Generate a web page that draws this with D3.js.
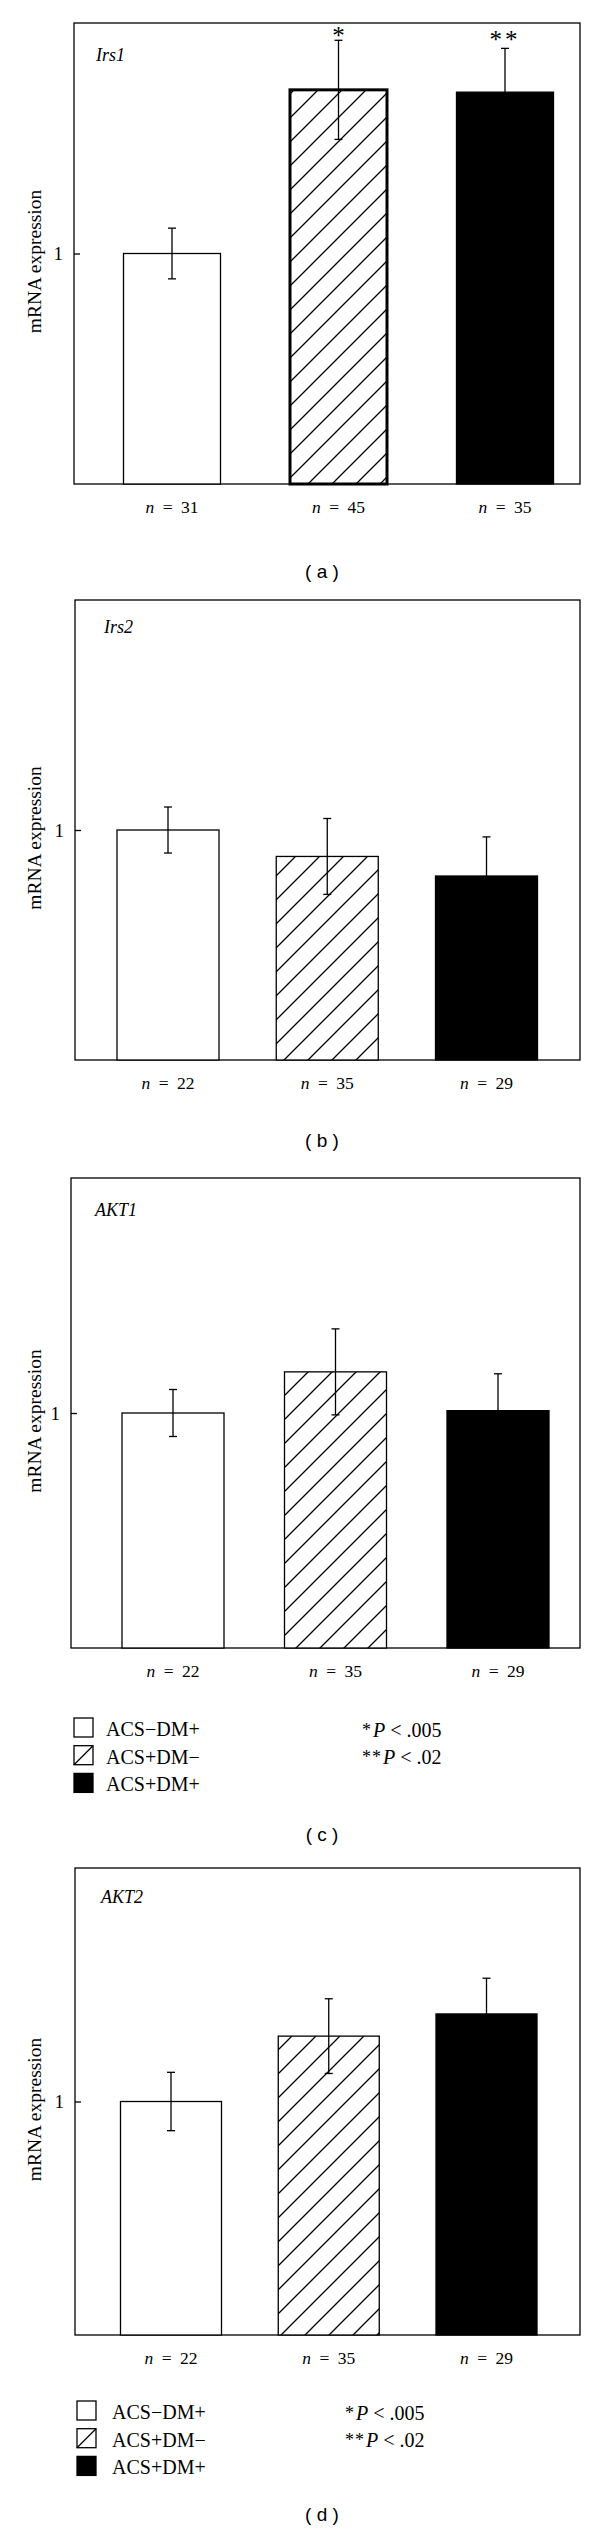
<!DOCTYPE html>
<html>
<head>
<meta charset="utf-8">
<script src="https://cdn.jsdelivr.net/npm/d3@7"></script>
<style>
  body { margin: 0; background: #fff; }
  svg { display: block; }
</style>
</head>
<body>
<div id="chart"></div>
<script>
const width = 600;
const height = 2531;
const serif = "'Liberation Serif', 'Times New Roman', serif";
const sans = "'Liberation Sans', Arial, sans-serif";

// data
const groups = ["ACS\u2212DM+", "ACS+DM\u2212", "ACS+DM+"];
const genes = ["Irs1", "Irs2", "AKT1", "AKT2"];
const panelTags = ["( a )", "( b )", "( c )", "( d )"];
const yDomain = [0, 2];
const yTicks = [1];

const irs1Mean = [1.0, 1.71, 1.70];
const irs1Err = [0.11, 0.215, 0.19];
const irs1N = [31, 45, 35];
const irs1Stars = ["", "*", "**"];

const irs2Mean = [1.0, 0.885, 0.80];
const irs2Err = [0.10, 0.165, 0.17];
const irs2N = [22, 35, 29];

const akt1Mean = [1.0, 1.175, 1.01];
const akt1Err = [0.10, 0.183, 0.157];
const akt1N = [22, 35, 29];

const akt2Mean = [1.0, 1.28, 1.375];
const akt2Err = [0.125, 0.16, 0.153];
const akt2N = [22, 35, 29];

const pStars = ["*", "**"];
const pValues = [".005", ".02"];

// layout of the four stacked panels
const panels = [
  { gene: genes[0], tag: panelTags[0], mean: irs1Mean, err: irs1Err, n: irs1N, stars: irs1Stars,
    left: 74, right: 580, top: 23, bottom: 484, cx: [172, 505], barW: 97,
    geneX: 96, geneY: 61, tagY: 578, thickHatch: true },
  { gene: genes[1], tag: panelTags[1], mean: irs2Mean, err: irs2Err, n: irs2N,
    left: 75, right: 580, top: 600, bottom: 1060, cx: [168, 486.5], barW: 102,
    geneX: 104, geneY: 633, tagY: 1147 },
  { gene: genes[2], tag: panelTags[2], mean: akt1Mean, err: akt1Err, n: akt1N,
    left: 71, right: 580, top: 1178, bottom: 1648, cx: [173, 498], barW: 102,
    geneX: 95, geneY: 1216, tagY: 1841,
    legend: { x: 74, top: 1718, textX: 106, pX: 362 } },
  { gene: genes[3], tag: panelTags[3], mean: akt2Mean, err: akt2Err, n: akt2N,
    left: 75, right: 580, top: 1868, bottom: 2335, cx: [171, 486.5], barW: 101,
    geneX: 101, geneY: 1903, tagY: 2521,
    legend: { x: 77, top: 2401, textX: 112, pX: 345 } }
];

const fills = ["#fff", "url(#hatch)", "#000"];

const svg = d3.select("#chart")
    .append("svg")
    .attr("width", width)
    .attr("height", height)
    .style("background", "#fff");

// diagonal hatch
const pat = svg.append("defs").append("pattern")
    .attr("id", "hatch")
    .attr("patternUnits", "userSpaceOnUse")
    .attr("width", 24)
    .attr("height", 24);
pat.append("rect").attr("width", 24).attr("height", 24).attr("fill", "#fff");
pat.append("path")
    .attr("d", "M-6,6 L6,-6 M0,24 L24,0 M18,30 L30,18")
    .attr("stroke", "#000")
    .attr("stroke-width", 1.3);

panels.forEach(p => {
    const g = svg.append("g");
    const y = d3.scaleLinear().domain(yDomain).range([p.bottom, p.top]);
    const x = d3.scalePoint().domain(groups).range(p.cx);

    const rows = groups.map((k, j) => ({
        key: k, idx: j, mean: p.mean[j], err: p.err[j], n: p.n[j],
        star: p.stars ? p.stars[j] : ""
    }));

    // frame
    g.append("rect")
        .attr("x", p.left)
        .attr("y", p.top)
        .attr("width", p.right - p.left)
        .attr("height", p.bottom - p.top)
        .attr("fill", "none")
        .attr("stroke", "#000")
        .attr("stroke-width", 1.3);

    // y axis, inward tick
    const ax = g.append("g")
        .attr("transform", `translate(${p.left},0)`)
        .call(d3.axisLeft(y).tickValues(yTicks).tickFormat(d3.format("d"))
            .tickSizeInner(-6).tickSizeOuter(0).tickPadding(11));
    ax.select(".domain").remove();
    ax.attr("font-family", serif).attr("font-size", 19);
    ax.selectAll("line").attr("stroke", "#000").attr("stroke-width", 1.3);
    ax.selectAll("text").attr("fill", "#000");

    g.append("text")
        .attr("transform", `translate(41,${y(1) + 8}) rotate(-90)`)
        .attr("text-anchor", "middle")
        .attr("font-family", serif)
        .attr("font-size", 19.5)
        .text("mRNA expression");

    // bars
    g.selectAll("rect.bar")
        .data(rows)
        .join("rect")
        .attr("class", "bar")
        .attr("x", d => x(d.key) - p.barW / 2)
        .attr("y", d => y(d.mean))
        .attr("width", p.barW)
        .attr("height", d => y(0) - y(d.mean))
        .attr("fill", d => fills[d.idx])
        .attr("stroke", "#000")
        .attr("stroke-width", d => (d.idx === 1 && p.thickHatch) ? 3 : 1.3);

    // error bars
    const eb = g.selectAll("g.err")
        .data(rows)
        .join("g")
        .attr("class", "err")
        .attr("stroke", "#000")
        .attr("stroke-width", 1.3);
    eb.append("line")
        .attr("x1", d => x(d.key)).attr("x2", d => x(d.key))
        .attr("y1", d => y(d.mean - d.err)).attr("y2", d => y(d.mean + d.err));
    eb.append("line")
        .attr("x1", d => x(d.key) - 4).attr("x2", d => x(d.key) + 4)
        .attr("y1", d => y(d.mean + d.err)).attr("y2", d => y(d.mean + d.err));
    eb.append("line")
        .attr("x1", d => x(d.key) - 4).attr("x2", d => x(d.key) + 4)
        .attr("y1", d => y(d.mean - d.err)).attr("y2", d => y(d.mean - d.err));

    // significance stars
    g.selectAll("text.star")
        .data(rows.filter(d => d.star))
        .join("text")
        .attr("class", "star")
        .attr("x", d => x(d.key))
        .attr("y", d => y(d.mean + d.err) + (d.star.length > 1 ? 0 : 4))
        .attr("text-anchor", "middle")
        .attr("font-family", serif)
        .attr("font-weight", 300)
        .attr("font-size", 25)
        .attr("letter-spacing", d => d.star.length > 1 ? 3 : 0)
        .text(d => d.star);

    // n labels
    const nl = g.selectAll("text.n")
        .data(rows)
        .join("text")
        .attr("class", "n")
        .attr("x", d => x(d.key))
        .attr("y", p.bottom + 29)
        .attr("text-anchor", "middle")
        .attr("font-family", serif)
        .attr("font-size", 17.5)
        .attr("word-spacing", 4);
    nl.append("tspan").attr("font-style", "italic").text("n");
    nl.append("tspan").text(d => " = " + d.n);

    // gene name
    g.append("text")
        .attr("x", p.geneX)
        .attr("y", p.geneY)
        .attr("font-family", serif)
        .attr("font-style", "italic")
        .attr("font-size", 18)
        .text(p.gene);

    // legend
    if (p.legend) {
        const L = p.legend;
        const step = 27.7;
        const size = 19;
        const lg = g.selectAll("g.leg")
            .data(groups)
            .join("g")
            .attr("class", "leg")
            .attr("transform", (d, j) => `translate(0,${L.top + j * step})`);
        lg.append("rect")
            .attr("x", L.x)
            .attr("y", 0)
            .attr("width", size)
            .attr("height", size)
            .attr("fill", (d, j) => j === 2 ? "#000" : "#fff")
            .attr("stroke", "#000")
            .attr("stroke-width", 1.3);
        lg.filter((d, j) => j === 1)
            .append("line")
            .attr("x1", L.x).attr("y1", size)
            .attr("x2", L.x + size).attr("y2", 0)
            .attr("stroke", "#000")
            .attr("stroke-width", 1.3);
        lg.append("text")
            .attr("x", L.textX)
            .attr("y", 18)
            .attr("font-family", serif)
            .attr("font-size", 20)
            .text(d => d);

        const pt = g.selectAll("text.p")
            .data(pStars)
            .join("text")
            .attr("class", "p")
            .attr("x", L.pX)
            .attr("y", (d, j) => L.top + 19 + j * 27)
            .attr("font-family", serif)
            .attr("font-size", 20);
        pt.append("tspan").attr("font-size", 18).attr("dy", -1).attr("letter-spacing", 1).text(d => d);
        pt.append("tspan").attr("dy", 1).attr("dx", 1).attr("font-style", "italic").text("P");
        pt.append("tspan").text((d, j) => " < " + pValues[j]);
    }

    // panel tag
    g.append("text")
        .attr("x", 322)
        .attr("y", p.tagY)
        .attr("text-anchor", "middle")
        .attr("font-family", sans)
        .attr("font-size", 19)
        .text(p.tag);
});
</script>
</body>
</html>
